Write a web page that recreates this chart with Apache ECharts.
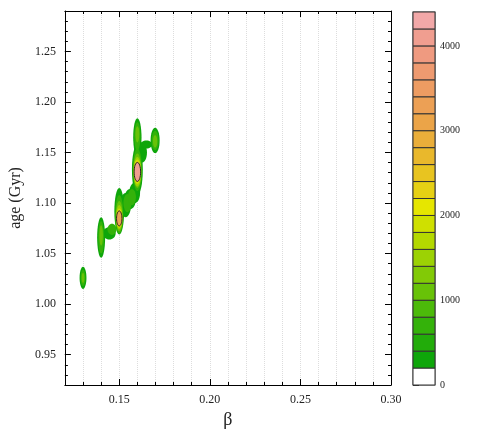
<!DOCTYPE html>
<html>
<head>
<meta charset="utf-8">
<script src="https://cdn.jsdelivr.net/npm/echarts@6/dist/echarts.min.js"></script>
<style>
  html, body { margin: 0; padding: 0; background: #fff; }
  #chart { width: 497px; height: 442px; }
</style>
</head>
<body>
<div id="chart"></div>
<script>
// density patches: [beta, age, half width (beta), half height (age), level]
var blob013 = [
  [0.1300, 1.026, 0.0019, 0.011, 300],
  [0.1300, 1.026, 0.0013, 0.008, 700],
  [0.1300, 1.026, 0.0008, 0.005, 1100]
];
var blob014 = [
  [0.1400, 1.066, 0.0022, 0.020, 300],
  [0.1400, 1.066, 0.0016, 0.016, 700],
  [0.1400, 1.068, 0.0010, 0.010, 1100],
  [0.1445, 1.070, 0.0035, 0.0060, 300],
  [0.1460, 1.074, 0.0025, 0.0055, 700]
];
var blob015 = [
  [0.1500, 1.092, 0.0027, 0.023, 300],
  [0.1500, 1.089, 0.0022, 0.019, 700],
  [0.1500, 1.087, 0.0019, 0.015, 1100],
  [0.1500, 1.086, 0.0017, 0.012, 1500],
  [0.1500, 1.085, 0.0017, 0.0095, 1900],
  [0.1500, 1.085, 0.0016, 0.0083, 2300],
  [0.1500, 1.0848, 0.0015, 0.0074, 3300],
  [0.1535, 1.098, 0.0030, 0.012, 300],
  [0.1560, 1.104, 0.0032, 0.010, 300],
  [0.1585, 1.110, 0.0030, 0.010, 300],
  [0.1545, 1.100, 0.0022, 0.009, 700],
  [0.1570, 1.106, 0.0022, 0.008, 700]
];
var blob016 = [
  [0.1600, 1.133, 0.0030, 0.025, 300],
  [0.1600, 1.165, 0.0023, 0.019, 300],
  [0.1625, 1.150, 0.0028, 0.010, 300],
  [0.1600, 1.133, 0.0025, 0.021, 700],
  [0.1600, 1.166, 0.0017, 0.014, 700],
  [0.1600, 1.132, 0.0022, 0.017, 1100],
  [0.1600, 1.168, 0.0011, 0.008, 1100],
  [0.1600, 1.131, 0.0021, 0.0145, 1500],
  [0.1600, 1.131, 0.0020, 0.012, 1900],
  [0.1600, 1.131, 0.0019, 0.0105, 2300],
  [0.1600, 1.1308, 0.0018, 0.0094, 4100],
  [0.1650, 1.158, 0.0033, 0.004, 300]
];
var blob017 = [
  [0.1698, 1.162, 0.0025, 0.0125, 300],
  [0.1698, 1.162, 0.0019, 0.0095, 700],
  [0.1698, 1.161, 0.0012, 0.006, 1100]
];

// colour bar: one colour per 200 step, from 0 to 4400
var levelStep = 200;
var levelColors = ['#ffffff','#0ea60a','#22ac0a','#34b20a','#4cba0a','#68c208','#82ca06',
  '#9cd204','#b4d900','#cfe000','#e6e600','#e6d014','#e8c420','#e9b82c','#eaae3a',
  '#eba448','#eca055','#ed9c62','#ee9a70','#ef9a80','#f09e90','#f2a8a8'];
var barTicks = [0, 1000, 2000, 3000, 4000];

var betaTicks = [0.15, 0.20, 0.25, 0.30];
var ageTicks = [0.95, 1.00, 1.05, 1.10, 1.15, 1.20, 1.25];

var patches = blob013.concat(blob014, blob015, blob016, blob017)
  .sort(function(a, b){ return a[4] - b[4]; });

var bands = levelColors.map(function(c, i){ return [i * levelStep, (i + 1) * levelStep, i]; });

var font = 'Liberation Serif';
var xMin = 0.12, xMax = 0.30, yMin = 0.92, yMax = 1.29;

function minorAxis(pos, isX){
  return {
    type: 'value', position: pos, gridIndex: 0,
    min: isX ? xMin : yMin, max: isX ? xMax : yMax, interval: 0.01,
    axisLine: { show: true, onZero: false, lineStyle: { color: '#000', width: 1 } },
    axisTick: { show: true, inside: true, length: 3, lineStyle: { color: '#000' } },
    axisLabel: { show: false },
    splitLine: { show: isX && pos === 'bottom', lineStyle: { color: '#ddd', type: 'dotted' } }
  };
}
function majorAxis(pos, isX, showLabel){
  var vals = isX ? betaTicks : ageTicks;
  return {
    type: 'value', position: pos, gridIndex: 0,
    min: isX ? xMin : yMin, max: isX ? xMax : yMax,
    axisLine: { show: false, onZero: false },
    axisTick: { show: true, inside: true, length: 6, customValues: vals, lineStyle: { color: '#000' } },
    axisLabel: { show: showLabel, customValues: vals, margin: 9, color: '#222',
      fontFamily: font, fontSize: 12,
      formatter: function(v){ return v.toFixed(2); } },
    splitLine: { show: false }
  };
}

var xb = majorAxis('bottom', true, true);
xb.name = 'β'; xb.nameLocation = 'middle'; xb.nameGap = 26;
xb.nameTextStyle = { fontFamily: font, fontSize: 18, color: '#222' };
var yl = majorAxis('left', false, true);
yl.name = 'age (Gyr)'; yl.nameLocation = 'middle'; yl.nameGap = 37;
yl.nameTextStyle = { fontFamily: font, fontSize: 16, color: '#222' };

var chart = echarts.init(document.getElementById('chart'));
chart.setOption({
  animation: false,
  backgroundColor: '#fff',
  grid: [
    { left: 62, right: 106, top: 11, bottom: 57 },
    { left: 413, width: 22, top: 12, bottom: 57, show: true, borderColor: '#888', borderWidth: 1.5 }
  ],
  xAxis: [
    minorAxis('bottom', true), xb, minorAxis('top', true), majorAxis('top', true, false),
    { type: 'value', gridIndex: 1, min: 0, max: 1, show: false }
  ],
  yAxis: [
    minorAxis('left', false), yl, minorAxis('right', false), majorAxis('right', false, false),
    { type: 'value', gridIndex: 1, position: 'right', min: 0, max: 4400,
      axisLine: { show: false },
      axisTick: { show: true, inside: false, length: 6, customValues: barTicks, lineStyle: { color: '#333' } },
      axisLabel: { show: true, customValues: barTicks, margin: 5, fontFamily: font, fontSize: 10, color: '#222',
        formatter: function(v){ return String(v); } },
      splitLine: { show: false } }
  ],
  series: [
    {
      type: 'custom', xAxisIndex: 0, yAxisIndex: 0, clip: true,
      data: patches,
      renderItem: function(params, api){
        var c = api.coord([api.value(0), api.value(1)]);
        var s = api.size([api.value(2), api.value(3)]);
        var lvl = api.value(4);
        var idx = Math.min(levelColors.length - 1, Math.floor(lvl / levelStep));
        var peak = lvl >= 3000;
        return {
          type: 'ellipse',
          shape: { cx: c[0], cy: c[1], rx: s[0], ry: s[1] },
          style: { fill: levelColors[idx], stroke: peak ? '#222' : null, lineWidth: peak ? 1 : 0 }
        };
      }
    },
    {
      type: 'custom', xAxisIndex: 4, yAxisIndex: 4,
      data: bands,
      renderItem: function(params, api){
        var p0 = api.coord([0, api.value(1)]);
        var p1 = api.coord([1, api.value(0)]);
        return {
          type: 'rect',
          shape: { x: p0[0], y: p0[1], width: p1[0] - p0[0], height: p1[1] - p0[1] },
          style: { fill: levelColors[api.value(2)], stroke: '#333', lineWidth: 1 }
        };
      }
    }
  ]
});
</script>
</body>
</html>
